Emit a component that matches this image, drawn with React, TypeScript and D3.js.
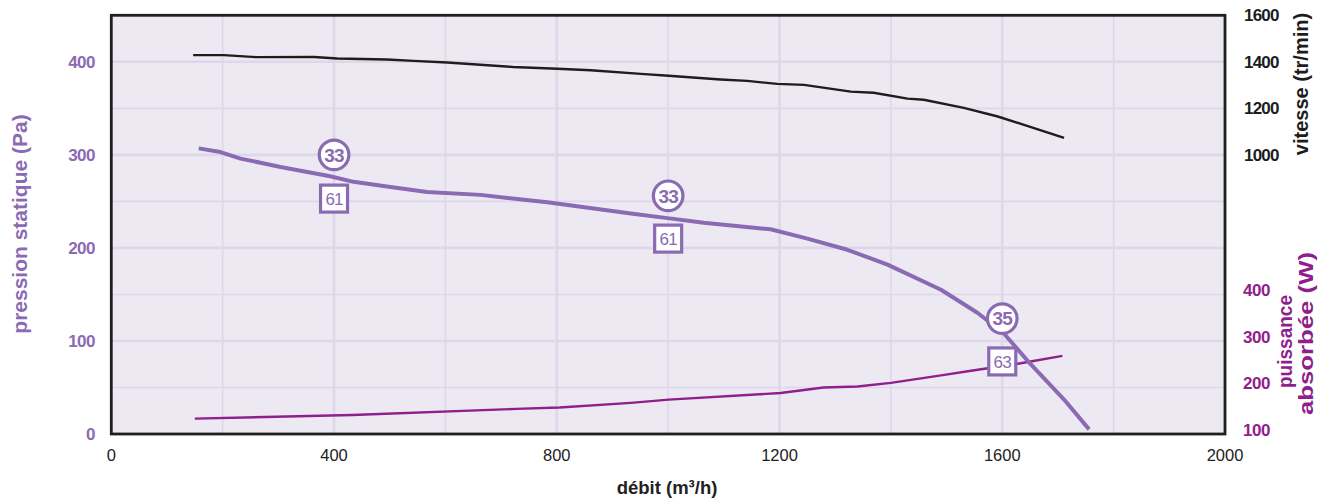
import React from "react";
import * as d3 from "d3";

// ---- data ----
const flowTicks = [0, 400, 800, 1200, 1600, 2000];
const pressureTicks = [0, 100, 200, 300, 400];
const speedTicks = [1000, 1200, 1400, 1600];
const powerTicks = [100, 200, 300, 400];

const pressureFlow = [157, 196, 232, 304, 340, 393, 435, 495, 567, 663, 783, 933, 999, 1064, 1184, 1250, 1322, 1394, 1490, 1556, 1603, 1651, 1711, 1756];
const pressureValues = [307, 303, 296, 287, 283, 277, 271, 266, 260, 257, 249, 237, 232, 227, 220, 210, 198, 182, 155, 130, 108, 75, 37, 5];

const speedFlow = [147, 202, 262, 364, 406, 495, 543, 603, 722, 801, 861, 951, 1001, 1094, 1142, 1196, 1244, 1328, 1369, 1430, 1459, 1531, 1592, 1711];
const speedValues = [1429, 1429, 1420, 1421, 1414, 1410, 1404, 1397, 1378, 1370, 1364, 1348, 1340, 1324, 1318, 1305, 1301, 1272, 1267, 1242, 1237, 1202, 1165, 1073];

const powerFlow = [150, 433, 727, 805, 933, 1001, 1202, 1279, 1340, 1400, 1496, 1544, 1633, 1708];
const powerValues = [124, 132, 145, 148, 158, 165, 179, 191, 193, 201, 218, 227, 243, 259];

const markerFlows = [400, 1000, 1600];
const circleLabels = ["33", "33", "35"];
const circlePressure = [300, 256, 124];
const squareLabels = ["61", "61", "63"];
const squarePressure = [253, 210, 78];

// ---- styles ----
const PURPLE = "#8A6BB3";
const MAGENTA = "#8E1F8C";
const BG = "#EDE9F3";
const GRID = "#DED7E9";
const FONT = "'Liberation Sans', Arial, Helvetica, sans-serif";

export default function App() {
  const W = 1326, H = 499;
  const left = 111.3, right = 1225, top = 15.3, bottom = 434;

  const x = d3.scaleLinear().domain([0, 2000]).range([left, right]);
  const yP = d3.scaleLinear().domain([0, 450]).range([bottom, top]);
  const yS = d3.scaleLinear().domain([-200, 1600]).range([bottom, top]);
  const yW = d3.scaleLinear().domain([91, 991]).range([bottom, top]);

  const pressureLine = d3.line<number>().x((d, i) => x(pressureFlow[i])).y((d) => yP(d)).curve(d3.curveLinear);
  const speedLine = d3.line<number>().x((d, i) => x(speedFlow[i])).y((d) => yS(d)).curve(d3.curveLinear);
  const powerLine = d3.line<number>().x((d, i) => x(powerFlow[i])).y((d) => yW(d)).curve(d3.curveLinear);

  const vGrid = d3.range(200, 2000, 200);
  const hGrid = d3.range(50, 450, 50);

  return (
    <svg width={W} height={H} style={{ position: "absolute", left: 0, top: 0, fontFamily: FONT }}>
      <rect x={left} y={top} width={right - left} height={bottom - top} fill={BG} />
      {vGrid.map((v) => (
        <line key={"v" + v} x1={x(v)} x2={x(v)} y1={top} y2={bottom} stroke={GRID} strokeWidth={v % 400 === 0 ? 2.6 : 1.6} />
      ))}
      {hGrid.map((v) => (
        <line key={"h" + v} x1={left} x2={right} y1={yP(v)} y2={yP(v)} stroke={GRID} strokeWidth={v % 100 === 0 ? 2.6 : 1.6} />
      ))}

      <path d={powerLine(powerValues) || ""} fill="none" stroke={MAGENTA} strokeWidth={2.4} strokeLinejoin="round" />
      <path d={speedLine(speedValues) || ""} fill="none" stroke="#1d1d1d" strokeWidth={2.4} strokeLinejoin="round" />
      <path d={pressureLine(pressureValues) || ""} fill="none" stroke={PURPLE} strokeWidth={4} strokeLinejoin="round" />

      {markerFlows.map((f, i) => (
        <g key={"m" + i}>
          <circle cx={x(f)} cy={yP(circlePressure[i])} r={14.8} fill="#fff" stroke={PURPLE} strokeWidth={3.2} />
          <text x={x(f)} y={yP(circlePressure[i])} dy="0.36em" textAnchor="middle" fontSize={19} fontWeight="bold" fill={PURPLE} letterSpacing={-0.9}>
            {circleLabels[i]}
          </text>
          <rect x={x(f) - 13.5} y={yP(squarePressure[i]) - 13.5} width={27} height={27} fill="#fff" stroke={PURPLE} strokeWidth={3.2} />
          <text x={x(f)} y={yP(squarePressure[i])} dy="0.36em" textAnchor="middle" fontSize={17} fill={PURPLE} letterSpacing={-0.8}>
            {squareLabels[i]}
          </text>
        </g>
      ))}

      <rect x={left} y={top} width={right - left} height={bottom - top} fill="none" stroke="#1f1f1f" strokeWidth={2.8} />

      {/* left axis */}
      {pressureTicks.map((t) => (
        <text key={"p" + t} x={95} y={yP(t)} dy="0.36em" textAnchor="end" fontSize={17} fontWeight="bold" fill={PURPLE} letterSpacing={-0.5}>
          {t}
        </text>
      ))}
      <text transform={`translate(27,${224}) rotate(-90)`} textAnchor="middle" fontSize={21} fontWeight="bold" fill={PURPLE}>
        pression statique (Pa)
      </text>

      {/* bottom axis */}
      {flowTicks.map((t) => (
        <text key={"f" + t} x={x(t)} y={461} textAnchor="middle" fontSize={16.5} fill="#222">
          {t}
        </text>
      ))}
      <text x={667} y={494} textAnchor="middle" fontSize={18.5} fontWeight="bold" fill="#222">
        débit (m³/h)
      </text>

      {/* right speed axis */}
      {speedTicks.map((t) => (
        <text key={"s" + t} x={1244} y={yS(t)} dy="0.36em" textAnchor="start" fontSize={17} fontWeight="bold" fill="#1d1d1d" letterSpacing={-0.8}>
          {t}
        </text>
      ))}
      <text transform={`translate(1308,${84}) rotate(-90)`} textAnchor="middle" fontSize={20} fontWeight="bold" fill="#1d1d1d">
        vitesse (tr/min)
      </text>

      {/* right power axis */}
      {powerTicks.map((t) => (
        <text key={"w" + t} x={1243} y={yW(t)} dy="0.36em" textAnchor="start" fontSize={17} fontWeight="bold" fill={MAGENTA} letterSpacing={-0.5}>
          {t}
        </text>
      ))}
      <text transform={`translate(1292,${341.5}) rotate(-90)`} textAnchor="middle" fontSize={20} fontWeight="bold" fill={MAGENTA} textLength={93} lengthAdjust="spacingAndGlyphs">
        puissance
      </text>
      <text transform={`translate(1312.5,${333.5}) rotate(-90)`} textAnchor="middle" fontSize={20} fontWeight="bold" fill={MAGENTA} textLength={163} lengthAdjust="spacingAndGlyphs">
        absorbée (W)
      </text>
    </svg>
  );
}
